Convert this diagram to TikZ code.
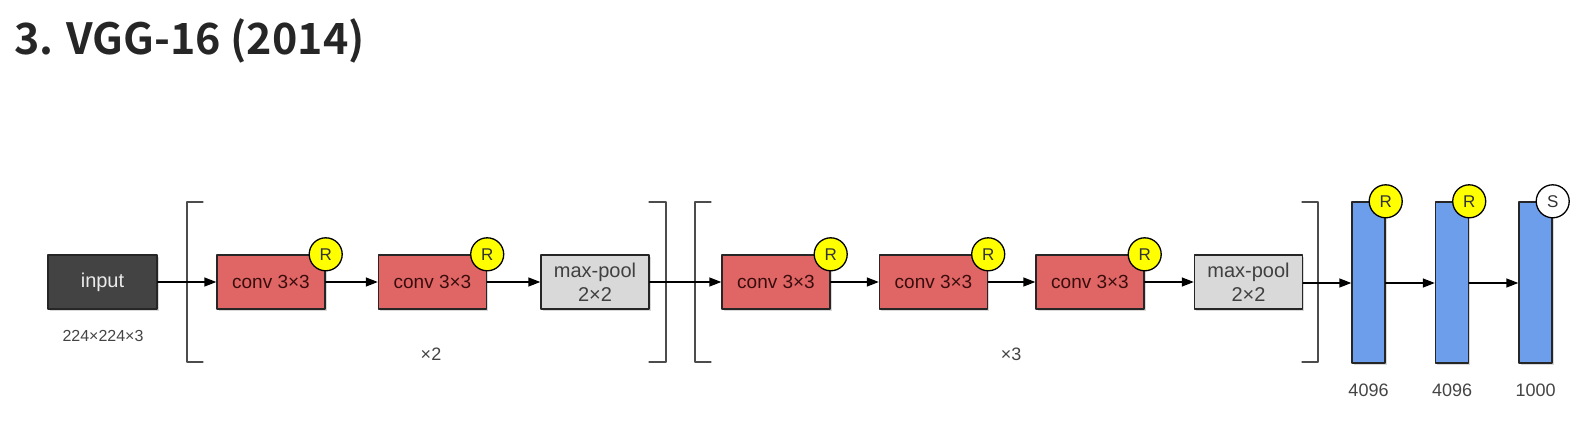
\documentclass[tikz,border=0pt]{standalone}
\usepackage{fontspec}
\setmainfont{Liberation Sans}
\newfontfamily\titlefont{Noto Sans CJK KR Bold}
\usetikzlibrary{arrows.meta,shadows}
\definecolor{convred}{HTML}{E06666}
\definecolor{convtext}{HTML}{3A0D0D}
\definecolor{poolgray}{HTML}{D9D9D9}
\definecolor{inputgray}{HTML}{434343}
\definecolor{fcblue}{HTML}{6D9EEB}
\definecolor{relu}{HTML}{FFFF00}
\definecolor{labelgray}{HTML}{444444}
\begin{document}
\begin{tikzpicture}[x=1pt,y=-1pt,line join=round,line cap=round,>={Triangle[length=12pt,width=9pt]},
	layer/.style={draw=black!85,line width=1.4pt,minimum width=108pt,minimum height=54pt,inner sep=0pt,
		drop shadow={shadow xshift=1.5pt,shadow yshift=-1.5pt,opacity=0.3},font=\fontsize{20}{24}\selectfont},
	conv/.style={layer,fill=convred,text=convtext,font=\fontsize{19}{24}\selectfont},
	pool/.style={layer,fill=poolgray,text=black!75,align=center},
	inbox/.style={layer,fill=inputgray,text=white!92!black,minimum width=109pt},
	fc/.style={layer,fill=fcblue,minimum width=33pt,minimum height=161pt},
	act/.style={circle,draw=black,line width=1.3pt,minimum size=33pt,inner sep=0pt,font=\fontsize{17}{17}\selectfont,text=black!80},
	bracket/.style={draw=black!70,line width=1.1pt},
	sizelabel/.style={text=labelgray,font=\fontsize{16}{16}\selectfont}]
	\useasboundingbox (0,0) rectangle (1581,420);
	% title
	\node[anchor=base west,inner sep=0pt,text=black!85] (title) at (14,55) {\titlefont\fontsize{43}{43}\selectfont 3. VGG-16 (2014)};
	% layers
	\node[inbox] (input) at (102.5,282) {input};
	\node[conv] (c1) at (271,282) {conv 3×3};
	\node[conv] (c2) at (432.5,282) {conv 3×3};
	\node[pool] (p1) at (595,282) {max-pool\\2×2};
	\node[conv] (c3) at (776,282) {conv 3×3};
	\node[conv] (c4) at (933.5,282) {conv 3×3};
	\node[conv] (c5) at (1090,282) {conv 3×3};
	\node[pool] (p2) at (1248.5,282) {max-pool\\2×2};
	\node[fc] (f1) at (1368.5,282.5) {};
	\node[fc] (f2) at (1452,282.5) {};
	\node[fc] (f3) at (1535.5,282.5) {};
	% activations
	\foreach \l in {c1,c2,c3,c4,c5,f1,f2} \node[act,fill=relu] (r\l) at (\l.north east) {R};
	\node[act,fill=white] (sf3) at (f3.north east) {S};
	% brackets
	\draw[bracket] (203,202) -- (187,202) -- (187,362) -- (203,362);
	\draw[bracket] (649,202) -- (666,202) -- (666,362) -- (649,362);
	\draw[bracket] (711,202) -- (695,202) -- (695,362) -- (711,362);
	\draw[bracket] (1302,202) -- (1318,202) -- (1318,362) -- (1302,362);
	% arrows
	\foreach \a/\b in {input/c1,c1/c2,c2/p1,p1/c3,c3/c4,c4/c5,c5/p2}
		\draw[->,line width=1.4pt] (\a) -- (\b);
	\foreach \a/\b in {p2/f1,f1/f2,f2/f3}
		\draw[->,line width=1.4pt] (\a.east |- 0,283) -- (\b.west |- 0,283);
	% sizes
	\node[sizelabel] (insize) at (103,336) {224×224×3};
	\node[sizelabel,font=\fontsize{18}{18}\selectfont] (rep2) at (431,354) {×2};
	\node[sizelabel,font=\fontsize{18}{18}\selectfont] (rep3) at (1011,354) {×3};
	\foreach \l/\t in {f1/4096,f2/4096,f3/1000}
		\node[sizelabel,font=\fontsize{18}{18}\selectfont] (n\l) at (\l.south |- 0,390) {\t};
\end{tikzpicture}
\end{document}
